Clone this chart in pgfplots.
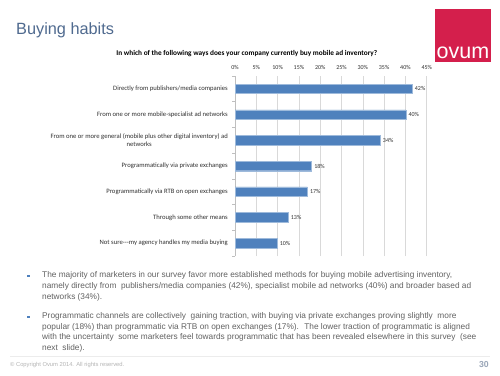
\documentclass[border=0pt]{standalone}
\usepackage{pgfplots}
\pgfplotsset{compat=1.18}
\usepackage{fontspec}
\setmainfont{Liberation Sans}
\newfontfamily\carlito{Carlito}
\definecolor{titleblue}{HTML}{4F6A8F}
\definecolor{barblue}{HTML}{4F81BD}
\definecolor{ovumred}{HTML}{D41F4C}
\definecolor{bodygray}{HTML}{626262}
\definecolor{lightgraytext}{HTML}{B4B4B4}
\definecolor{pagenum}{HTML}{9AA6B8}
\definecolor{gridgray}{HTML}{D9D9D9}
\definecolor{axisgray}{HTML}{BFBFBF}
\definecolor{labelgray}{HTML}{303030}

\pgfplotstableread{
y v lab
6 41.6 42
5 40.1 40
4 34.1 34
3 18.0 18
2 17.0 17
1 12.5 13
0 9.9 10
}\buydata

\begin{document}
\begin{tikzpicture}[x=1pt,y=1pt]
\useasboundingbox[fill=white] (0,0) rectangle (500,375);
% slide title
\node[anchor=west, text=titleblue, font=\fontsize{16.3}{18}\selectfont, inner sep=0] at (16,345) {Buying habits};
% logo
\fill[ovumred] (435,366) rectangle (491,313);
\node[anchor=base, text=white, font=\fontsize{21.5}{21}\selectfont, inner sep=0] at (463,316) {ovum};
% chart title
\node[font=\carlito\bfseries\fontsize{7.3}{8}\selectfont, text=black, inner sep=0] at (246.8,321) {In which of the following ways does your company currently buy mobile ad inventory?};

\begin{axis}[
  at={(330.85pt,209pt)}, anchor=center,
  scale only axis, width=191.7pt, height=180pt,
  xmin=0, xmax=45, ymin=-0.5, ymax=6.5,
  axis x line*=top, axis y line*=left,
  x axis line style={draw=none},
  y axis line style={draw=axisgray, line width=0.5pt},
  xtick={0,5,...,45},
  xticklabels={0\%,5\%,10\%,15\%,20\%,25\%,30\%,35\%,40\%,45\%},
  major x tick style={draw=none},
  xmajorgrids, grid style={draw=gridgray, line width=0.5pt},
  xticklabel style={font=\carlito\fontsize{6}{7}\selectfont, text=labelgray, inner sep=0pt},
  xticklabel shift=6pt,
  ytick={0,...,6},
  yticklabels={{Not sure---my agency handles my media buying},
    {Through some other means},
    {Programmatically via RTB on open exchanges},
    {Programmatically via private exchanges},
    {From one or more general (mobile plus other digital inventory) ad\\networks},
    {From one or more mobile-specialist ad networks},
    {Directly from publishers/media companies}},
  yticklabel style={font=\carlito\fontsize{6.65}{8}\selectfont, text=labelgray, align=center, inner sep=0pt},
  yticklabel shift=7pt,
  major y tick style={draw=none}, major tick length=0pt,
  minor ytick={-0.5,0.5,...,6.5},
  minor y tick style={draw=axisgray, line width=0.5pt},
  minor tick length=3pt, tick align=outside,
  clip=false,
]
\addplot[xbar, bar width=9.5pt, fill=barblue, draw=barblue!55!white, line width=0.4pt,
  point meta=explicit symbolic,
  nodes near coords={\pgfplotspointmeta\%},
  nodes near coords style={font=\carlito\fontsize{6}{7}\selectfont, text=labelgray, anchor=west, inner sep=2.5pt}]
  table[x=v, y=y, meta=lab] {\buydata};
\end{axis}

% bullets
\fill[barblue] (27,97.6) rectangle ++(2.6,2.6);
\fill[barblue] (27,56.6) rectangle ++(2.6,2.6);
\node[anchor=north west, align=left, font=\fontsize{8.3}{11}\selectfont, text=bodygray, inner sep=0] at (42,103.5)
{The majority of marketers in our survey favor more established methods for buying mobile advertising inventory,\\
namely directly from \ publishers/media companies (42\%), specialist mobile ad networks (40\%) and broader based ad\\
networks (34\%).};
\node[anchor=north west, align=left, font=\fontsize{8.3}{10.5}\selectfont, text=bodygray, inner sep=0] at (42,62.5)
{Programmatic channels are collectively \ gaining traction, with buying via private exchanges proving slightly \ more\\
popular (18\%) than programmatic via RTB on open exchanges (17\%). \ The lower traction of programmatic is aligned\\
with the uncertainty \ some marketers feel towards programmatic that has been revealed elsewhere in this survey \ (see\\
next \ slide).};
% footer
\draw[gray!15, line width=0.6pt] (10,19) -- (490,19);
\node[anchor=west, font=\fontsize{5.8}{7}\selectfont, text=lightgraytext, inner sep=0] at (10,10) {\textcopyright{} Copyright Ovum 2014. All rights reserved.};
\node[anchor=east, font=\bfseries\fontsize{8.7}{10}\selectfont, text=pagenum, inner sep=0] at (489,10) {30};
\end{tikzpicture}
\end{document}
